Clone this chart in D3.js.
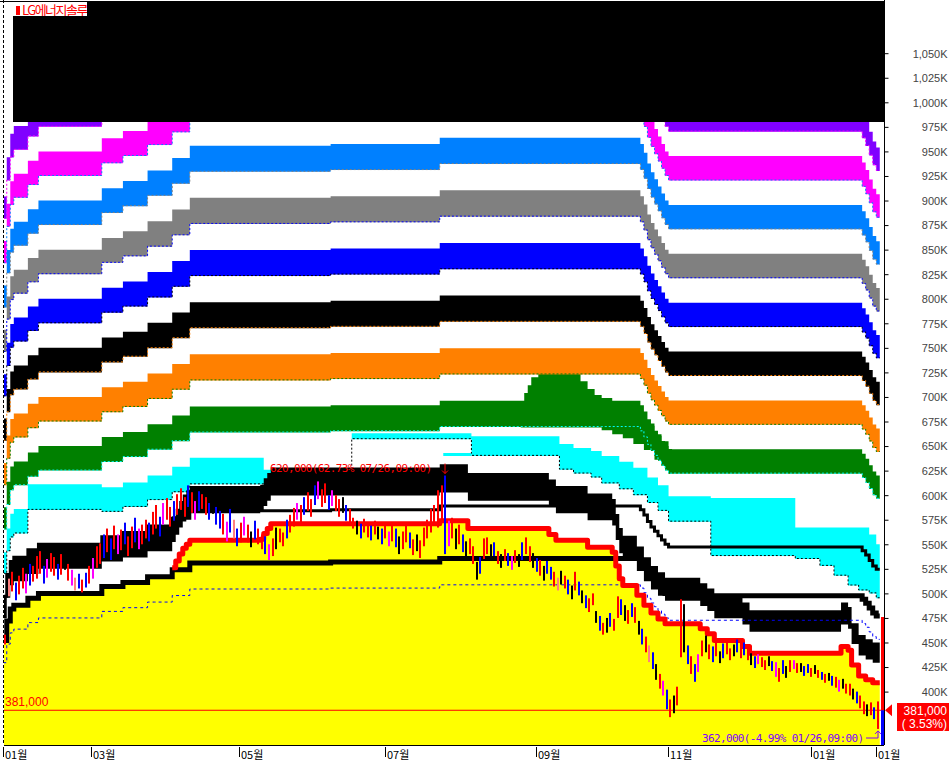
<!DOCTYPE html>
<html>
<head>
<meta charset="utf-8">
<script src="https://cdn.jsdelivr.net/npm/d3@7"></script>
<style>
  body { margin: 0; background: #fff; }
  svg { display: block; }
  .ax text { font-family: "Liberation Sans", sans-serif; font-size: 11px; fill: #444; }
</style>
</head>
<body>
<svg width="951" height="764"></svg>
<script>
// ---- data (prices in K won, x = trading-day index) ----
const nBars = 249;

const barHigh = [458,515,522,511,518,526,520,530,528,538,
  543,528,535,541,537,530,540,543,530,524,
  516,520,514,521,528,536,548,551,560,566,
  556,569,560,565,572,558,568,577,566,570,
  575,572,583,590,578,592,597,588,594,601,
  607,598,610,603,594,604,601,598,592,597,
  588,584,581,573,586,575,566,572,578,570,
  563,574,566,560,558,550,556,567,566,562,
  575,580,587,592,590,598,603,596,610,614,
  606,612,600,605,600,596,598,590,586,577,
  574,571,576,570,569,574,568,566,572,563,
  570,566,558,563,571,562,555,560,554,567,
  575,586,590,605,610,620,574,577,566,570,
  560,553,556,548,532,537,556,557,550,552,
  543,540,545,541,538,544,540,552,557,548,
  541,536,534,528,533,527,522,516,523,518,
  514,508,522,512,503,498,495,500,482,477,
  470,475,480,474,497,494,488,483,490,486,
  472,464,456,447,440,428,418,411,402,392,
  396,405,494,489,447,436,428,438,452,457,
  448,446,450,441,449,451,444,448,453,447,
  450,444,439,436,438,435,432,436,431,430,
  424,432,426,432,432,429,429,426,428,424,
  427,422,420,418,419,416,415,412,413,408,
  408,403,400,396,390,387,389,384,390];

const barLow = [448,497,502,493,499,505,500,508,512,515,
  520,510,516,522,518,514,519,524,513,508,
  503,505,501,506,510,515,526,530,536,542,
  534,545,540,544,550,538,546,552,545,550,
  556,553,560,566,558,570,575,568,574,580,
  585,578,588,582,575,584,586,580,575,581,
  570,566,560,553,562,556,548,552,559,552,
  547,555,550,545,540,534,538,545,552,548,
  556,562,568,575,572,580,584,578,590,596,
  588,592,585,589,584,578,582,574,570,566,
  560,556,562,557,554,560,555,550,556,548,
  553,547,540,545,552,546,539,543,536,548,
  556,562,570,567,575,540,548,556,545,550,
  542,536,540,530,514,520,535,540,534,538,
  530,526,533,528,524,531,527,534,540,532,
  526,522,518,513,520,514,507,503,509,505,
  499,494,503,498,490,485,481,488,470,462,
  458,460,466,462,475,478,472,469,476,470,
  458,448,440,430,423,412,403,396,382,374,
  378,386,435,440,428,418,410,420,436,440,
  433,430,436,429,434,438,432,436,440,434,
  437,432,427,424,428,425,422,426,421,415,
  410,418,414,420,423,419,420,416,419,415,
  418,414,412,409,411,406,404,400,403,398,
  396,392,388,383,377,375,376,372,362];

// r red, b blue, k black, m magenta, p pink
const barTone = "rprbrrmbrr" + "rbmrrbrkrm" + "pbrbrmrrbr" + "brmrbrrbmr" + "rbrrbmrrbr" +
  "rrbrmbrrbk" + "bbrmbpbrmr" + "kbrrbmrkrr" + "brrmrbrrbm" + "rrbmrrkbrr" +
  "kbrrbrkbrm" + "rbkrrbrkrr" + "rrrrrbmrkr" + "bkrrkbrrkb" + "rkrbmrkbrr" +
  "kbrkbbrpkr" + "bkrbkbrrkb" + "rkbrrbkrbr" + "kbrpbkrmbr" + "krrkbrbmrk" +
  "rbrkbrrkbr" + "brkbmrrkbm" + "rbkrmrkbbr" + "krbrkbrmkr" + "rkbrrkrbr";

// long-period base line [bar, value], steps after each bar
const baseLine = [[0,452],[1,472],[2,484],[3,488],[7,495],[10,500],[28,507],[34,511],[41,517],
  [48,524],[53,531],[93,532],[124,535.5],[181,532],[182,527],[183,521],[184,516],[185,512],
  [186,508],[187,504],[188,500],[189,497.5],[244,494],[245,490],[246,485],[247,480],[248,477]];

// short-period base line (red line)
const fastLine = [[0,452],[1,472],[2,484],[3,488],[7,495],[10,500],[28,507],[34,511],[41,517],
  [48,526],[49,533],[50,540],[51,546],[52,550],[53,554],[73,555],[74,561],[75,566],[76,571],
  [124,574],[132,566],[155,560],[157,554],[166,547],[173,542],[174,528],[175,515],[176,508],
  [180,498],[182,488],[184,480],[186,474],[188,469],[198,464],[200,459],[202,452],[210,446],
  [212,439],[238,446],[240,442],[241,427],[243,416],[245,412],[247,409]];

// cyan band [bar, low, high]
const cyanBand = [[0,520,542],[1,543,566],[2,557,581],[3,561,586],[7,585,611],[28,583,608],
  [34,588,613],[41,595,620],[48,603,629],[53,611,638],[74,611,626],[99,657,663],
  [133,640,660],[158,626,652],[162,622,648],[167,618,645],[170,612,640],[175,606,634],
  [179,600,628],[183,592,618],[186,584,610],[189,573,599],[201,538,597],[225,535,567],
  [232,528,567],[236,518,567],[240,508,567],[243,503,567],[246,500,560],[248,495,550]];
// thin cyan strip just above the black band after the July high
const cyanStrip = [[125,640,643],[133,0,0]];

// green hump [bar, low, high]
const greenHump = [[147,669,696],[148,669,704],[149,669,712],[150,669,720],[152,669,727],
  [164,669,716],[166,669,708],[168,669,702],[170,666,699],[173,662,694],[176,658,688],
  [179,652,681],[182,646,673],[185,636,662],[187,630,655],[189,622,647]];

// envelope levels relative to the long base
const bandLevels = [[1.25,1.30],[1.35,1.40],[1.45,1.50],[1.55,1.60],[1.65,1.70],[1.75,1.80],[1.85,1.90],[1.95,2.00]];
const fastBand = [1.05, 1.10];
const lowLine = 0.95, midLine = 1.10;

const yTicks = d3.range(400, 1051, 25);
const monthTicks = [["01월",0],["03월",25],["05월",67],["07월",108.5],["09월",151.5],["11월",189],["01월",229.5],["01월",248]];

const lastPrice = 381, lastPct = "3.53";
const hiNote = "620,000(62.73% 07/26,09:00)", hiBar = 125;
const loNote = "362,000(-4.99% 01/26,09:00)", loBar = 248;

// ---- drawing ----
const svg = d3.select("svg");
const x = d3.scaleLinear().domain([0, nBars - 1]).range([5, 878]);
const y = d3.scaleLinear().domain([400, 1050]).range([691.6, 53.2]);
const plotL = 4, plotR = 884, plotB = 745;

svg.append("clipPath").attr("id", "plot")
  .append("rect").attr("x", plotL).attr("y", 0).attr("width", plotR - plotL).attr("height", plotB);

const stepVal = (s, i) => { let k = 0; while (k + 1 < s.length && s[k + 1][0] <= i) k++; return s[k]; };
const idx = d3.range(nBars + 1);
const rows = idx.map(i => ({ i, b: stepVal(baseLine, i)[1], r: stepVal(fastLine, i)[1] }));
const bandRows = (s) => d3.range(s[0][0], Math.min(nBars, s[s.length - 1][0] + 1) + 1)
  .map(i => { const v = stepVal(s, i); return { i, lo: v[1], hi: v[2] }; });

const g = svg.append("g").attr("clip-path", "url(#plot)");

const area = (lo, hi) => d3.area().curve(d3.curveStepAfter)
  .x(d => x(d.i - 0.5)).y0(lo).y1(hi);
const line = (f) => d3.line().curve(d3.curveStepAfter).x(d => x(d.i - 0.5)).y(f);

// yellow area under the red line
g.append("path").datum(rows).attr("fill", "#ffff00")
  .attr("d", area(() => plotB, d => y(d.r)));

// green hump (under)
g.append("path").datum(bandRows(greenHump)).attr("fill", "#008000")
  .attr("d", area(d => y(d.lo), d => y(d.hi)));

// cyan band
const cyanRows = bandRows(cyanBand);
g.append("path").datum(cyanRows).attr("fill", "#00ffff")
  .attr("d", area(d => y(d.lo), d => y(d.hi)));
g.append("path").datum(cyanRows).attr("fill", "none").attr("stroke", "#000")
  .attr("stroke-dasharray", "2,2").attr("d", line(d => y(d.lo) - 0.5));
g.append("path").datum(bandRows(cyanStrip)).attr("fill", "#00ffff")
  .attr("d", area(d => d.hi > d.lo ? y(d.lo) : 0, d => d.hi > d.lo ? y(d.hi) : 0));

// envelope bands
const bandFill = ["#008000", "#ff8000", "#000000", "#0000ff", "#808080", "#0080ff", "#ff00ff", "#8000ff"];
const bandEdge = ["#00ffff", "#008000", "#ff8000", "#000000", "#0000ff", "#808080", "#0080ff", "#ff00ff"];
bandLevels.forEach((lv, k) => {
  g.append("path").datum(rows).attr("fill", bandFill[k])
    .attr("d", area(d => y(d.b * lv[0]), d => y(d.b * lv[1])));
  g.append("path").datum(rows).attr("fill", "none").attr("stroke", bandEdge[k])
    .attr("stroke-dasharray", "2,2").attr("d", line(d => y(d.b * lv[0]) - 0.5));
});

// black band on the short base
g.append("path").datum(rows).attr("fill", "#000")
  .attr("d", area(d => y(d.r * fastBand[0]), d => y(d.r * fastBand[1])));

// base lines
g.append("path").datum(rows).attr("fill", "none").attr("stroke", "#000").attr("stroke-width", 5)
  .attr("d", line(d => y(d.b)));
g.append("path").datum(rows).attr("fill", "none").attr("stroke", "#000").attr("stroke-width", 3)
  .attr("d", line(d => y(d.b * midLine)));
g.append("path").datum(rows).attr("fill", "none").attr("stroke", "#0000ff").attr("stroke-width", 1)
  .attr("stroke-dasharray", "3,3").attr("d", line(d => y(d.b * lowLine)));

// red line
g.append("path").datum(rows.filter(d => d.i >= 48)).attr("fill", "none").attr("stroke", "#ff0000")
  .attr("stroke-width", 5).attr("stroke-linejoin", "round").attr("d", line(d => y(d.r)));

// last price line
g.append("line").attr("x1", plotL).attr("x2", plotR).attr("y1", y(lastPrice)).attr("y2", y(lastPrice))
  .attr("stroke", "#ff0000");
g.append("text").attr("x", 5).attr("y", y(lastPrice) - 4).attr("fill", "#ff0000")
  .style("font", "12px 'Liberation Sans'").text(d3.format(",")(lastPrice * 1000));

// price bars
const toneColor = { r: "#ff0000", b: "#0000ff", k: "#000000", m: "#ff00ff", p: "#ff8080" };
g.selectAll("rect.bar").data(d3.range(nBars)).join("rect")
  .attr("x", i => Math.round(x(i)) - 1).attr("width", 2)
  .attr("y", i => y(barHigh[i])).attr("height", i => Math.max(1, y(barLow[i]) - y(barHigh[i])))
  .attr("fill", i => toneColor[barTone[i]]);

// high / low notes
const noteFont = "11px 'DejaVu Sans Mono', monospace";
g.append("text").attr("x", 270).attr("y", y(barHigh[hiBar]) - 4).attr("fill", "#ff0000")
  .attr("textLength", 162).style("font", noteFont).text(hiNote);
g.append("path").attr("stroke", "#ff0000").attr("fill", "none")
  .attr("d", `M${x(hiBar)},${y(barHigh[hiBar]) - 12}V${y(barHigh[hiBar]) - 2}M${x(hiBar) - 3},${y(barHigh[hiBar]) - 5}L${x(hiBar)},${y(barHigh[hiBar]) - 2}L${x(hiBar) + 3},${y(barHigh[hiBar]) - 5}`);
g.append("text").attr("x", 702).attr("y", 742).attr("fill", "#8000ff")
  .attr("textLength", 162).style("font", noteFont).text(loNote);
g.append("path").attr("stroke", "#8000ff").attr("fill", "none")
  .attr("d", `M866,738H${x(loBar)}V${y(barLow[loBar]) + 2}M${x(loBar) - 3},${y(barLow[loBar]) + 5}L${x(loBar)},${y(barLow[loBar]) + 2}L${x(loBar) + 3},${y(barLow[loBar]) + 5}`);

// top mask and title
svg.append("rect").attr("x", 13).attr("y", 0).attr("width", 74).attr("height", 16).attr("fill", "#fff");
svg.append("rect").attr("x", 16).attr("y", 6).attr("width", 4).attr("height", 9).attr("fill", "#ff0000");
svg.append("text").attr("x", 22).attr("y", 15).attr("fill", "#ff0000").style("letter-spacing", "-1.5px")
  .style("font", "13px 'Noto Sans CJK KR'").text("LG에너지솔루션");
svg.append("rect").attr("x", 87).attr("y", 2).attr("width", plotR - 87).attr("height", 14).attr("fill", "#000");
svg.append("rect").attr("x", 13).attr("y", 16).attr("width", plotR - 13).attr("height", 106).attr("fill", "#000");

// frame
svg.append("line").attr("x1", 3.5).attr("x2", 3.5).attr("y1", 0).attr("y2", plotB)
  .attr("stroke", "#000").attr("stroke-dasharray", "3,2");
svg.append("line").attr("x1", 0).attr("x2", plotR).attr("y1", 1.5).attr("y2", 1.5).attr("stroke", "#000");
svg.append("line").attr("x1", plotL).attr("x2", plotR).attr("y1", plotB + 0.5).attr("y2", plotB + 0.5).attr("stroke", "#000");

// right axis
const ax = svg.append("g").attr("class", "ax").attr("transform", `translate(${plotR + 0.5},0)`)
  .call(d3.axisRight(y).tickValues(yTicks).tickSize(4).tickFormat(v => d3.format(",")(v) + "K"));
ax.select(".domain").attr("d", `M0,0V${plotB}`);
ax.selectAll("text").attr("text-anchor", "end").attr("x", 63).attr("dy", "0.35em");

// right side price marker
svg.append("rect").attr("x", 881).attr("y", 617).attr("width", 3).attr("height", y(lastPrice) - 617).attr("fill", "#ff0000");
svg.append("rect").attr("x", 881).attr("y", y(lastPrice)).attr("width", 3).attr("height", plotB - y(lastPrice)).attr("fill", "#0000ff");
svg.append("path").attr("fill", "#ff0000")
  .attr("d", `M885,${y(lastPrice)}L892,${y(lastPrice) - 6}V${y(lastPrice) + 6}Z`);
svg.append("rect").attr("x", 897).attr("y", 703).attr("width", 52).attr("height", 28).attr("fill", "#ff0000");
svg.append("text").attr("x", 947).attr("y", 715).attr("text-anchor", "end").attr("fill", "#fff")
  .style("font", "12px 'Liberation Sans'").text(d3.format(",")(lastPrice * 1000));
svg.append("text").attr("x", 947).attr("y", 728).attr("text-anchor", "end").attr("fill", "#fff")
  .style("font", "12px 'Liberation Sans'").text(`( ${lastPct}%)`);

// bottom axis
const bx = svg.append("g");
monthTicks.forEach(([lab, i]) => {
  const px = Math.round(x(i)) - 2;
  bx.append("line").attr("x1", px + 0.5).attr("x2", px + 0.5).attr("y1", 747).attr("y2", 757).attr("stroke", "#000");
  bx.append("text").attr("x", px + 2).attr("y", 759).attr("fill", "#000")
    .style("font", "11px 'Noto Sans CJK KR'").text(lab);
});
</script>
</body>
</html>
